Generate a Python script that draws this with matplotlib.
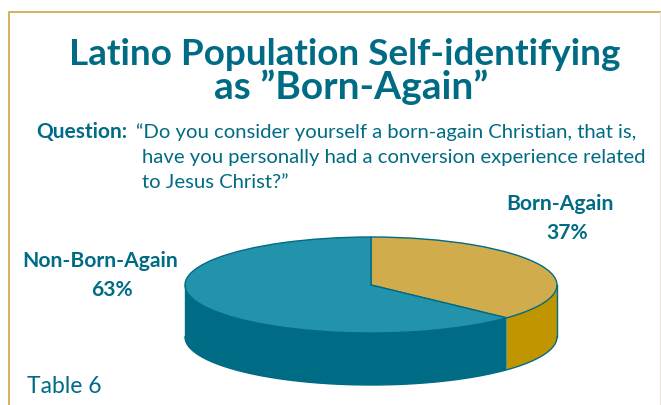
#!/usr/bin/env python

import numpy as np
import matplotlib
matplotlib.use('Agg')
import matplotlib.pyplot as plt

labels = ['Born-Again', 'Non-Born-Again']
values = [37, 63]
top_colors = ['#D1AC4C', '#2393AB']
side_colors = ['#C09500', '#006B85']

title_lines = ['Latino Population Self-identifying', 'as \u201dBorn-Again\u201d']
question_lines = ['\u201cDo you consider yourself a born-again Christian, that is,',
                  'have you personally had a conversion experience related',
                  'to Jesus Christ?\u201d']

TEAL = '#006B85'
GOLD = '#D1AC4C'
W, H = 661, 405

plt.rcParams['font.family'] = ['Lato', 'DejaVu Sans']

fig = plt.figure(figsize=(W / 100, H / 100), dpi=100)

# page layer in pixel coordinates, for the frame and the text
page = fig.add_axes([0, 0, 1, 1])
page.set_xlim(0, W)
page.set_ylim(H, 0)
page.axis('off')
page.plot([9, 9, 660], [H, 12, 12], color=GOLD, lw=1.3)
page.plot([660, 660], [12, H], color='#E8E4D8', lw=0.7)

page.text(345, 65, title_lines[0], color=TEAL, fontsize=26.6, weight='bold', ha='center')
page.text(351, 99, title_lines[1], color=TEAL, fontsize=28, weight='bold', ha='center')

page.text(36, 138, 'Question:', color=TEAL, fontsize=15, weight='bold')
for y, line in zip([138, 163, 188], question_lines):
    x = 136 if line.startswith('\u201c') else 142
    page.text(x, y, line, color=TEAL, fontsize=14.6)

page.text(560, 210, labels[0], color=TEAL, fontsize=15.2, weight='bold', ha='center')
page.text(567, 239, '%d%%' % values[0], color=TEAL, fontsize=15.2, weight='bold', ha='center')
page.text(100, 267, labels[1], color=TEAL, fontsize=15.2, weight='bold', ha='center')
page.text(112, 296, '%d%%' % values[1], color=TEAL, fontsize=15.2, weight='bold', ha='center')
page.text(27, 393, 'Table 6', color=TEAL, fontsize=16.5)

# pie layer: unit circle squashed by the axes box, the depth is in radius units
left, right, top, bottom = 185, 557, 237, 385
ry = 48
depth = (bottom - top - 2 * ry) / ry
ax = fig.add_axes([left / W, 1 - bottom / H, (right - left) / W, (bottom - top) / H])

# side walls, only the part of each slice facing the viewer (90 to 270 deg from the top)
edges = np.cumsum([0] + values) / sum(values) * 360
for i in range(len(values)):
    a0, a1 = max(edges[i], 90), min(edges[i + 1], 270)
    t = np.radians(np.linspace(a0, a1, 120))
    x, y = np.sin(t), np.cos(t)
    ax.fill(np.r_[x, x[::-1]], np.r_[y, y[::-1] - depth], color=side_colors[i], lw=0)

t = np.radians(np.linspace(90, 270, 240))
ax.plot(np.sin(t), np.cos(t) - depth, color=TEAL, lw=1.0)
ax.plot([1, 1], [0, -depth], color=TEAL, lw=1.0)
ax.plot([-1, -1], [0, -depth], color=TEAL, lw=1.0)

ax.pie(values, colors=top_colors, startangle=90, counterclock=False, radius=1,
       wedgeprops={'edgecolor': TEAL, 'linewidth': 1.0})
ax.set_aspect('auto')
ax.set_xlim(-1, 1)
ax.set_ylim(-1 - depth, 1)
for art in ax.get_children():
    art.set_clip_on(False)
ax.axis('off')

fig.savefig('out.png', dpi=100)
